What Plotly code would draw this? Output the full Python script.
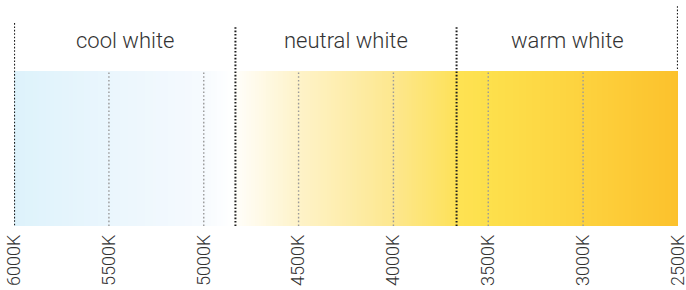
import numpy as np
import plotly.graph_objects as go

# --- data ---
tick_kelvin = [6000, 5500, 5000, 4500, 4000, 3500, 3000, 2500]
tick_labels = ["6000K", "5500K", "5000K", "4500K", "4000K", "3500K", "3000K", "2500K"]
section_names = ["cool white", "neutral white", "warm white"]
section_bounds = [6000, 4833, 3667, 2500]
# colour stops of the gradient (kelvin -> colour)
stop_kelvin = [6000, 5500, 5000, 4850, 4833, 4500, 4000, 3700, 3667, 3500, 3000, 2500]
stop_colors = ["#ddf2fb", "#eaf6fd", "#f6fafe", "#ffffff", "#fffefa", "#fef3c9",
               "#fde78e", "#fde25e", "#fee253", "#fde04c", "#fdd23e", "#fcc12c"]

kmin, kmax = min(stop_kelvin), max(stop_kelvin)
colorscale = sorted([[(k - kmin) / (kmax - kmin), c] for k, c in zip(stop_kelvin, stop_colors)])

# gradient band as heatmap cells (edges along kelvin axis)
edges = np.linspace(kmax, kmin, 351)
centers = (edges[:-1] + edges[1:]) / 2

fig = go.Figure()
fig.add_trace(go.Heatmap(
    x=edges, y=[0, 1], z=[centers],
    colorscale=colorscale, zmin=kmin, zmax=kmax,
    showscale=False, hoverinfo="skip", zsmooth=False,
))

# gray dotted lines at inner ticks
gx, gy = [], []
for k in tick_kelvin[1:-1]:
    gx += [k, k, None]
    gy += [0, 1, None]
fig.add_trace(go.Scatter(x=gx, y=gy, mode="lines",
                         line=dict(color="#9a9a9a", width=1.4, dash="1.6px,2.2px"),
                         hoverinfo="skip", showlegend=False))

# black dotted section boundaries
tops = [1.31, 1.285, 1.285, 1.42]
bottoms = [0.005, 0.0, 0.0, 1.013]
bx, by = [], []
for k, t, b in zip(section_bounds, tops, bottoms):
    bx += [k, k, None]
    by += [b, t, None]
fig.add_trace(go.Scatter(x=bx, y=by, mode="lines",
                         line=dict(color="#1e1e1e", width=2, dash="1.6px,1.8px"),
                         hoverinfo="skip", showlegend=False, cliponaxis=False))

for i, name in enumerate(section_names):
    fig.add_annotation(x=(section_bounds[i] + section_bounds[i + 1]) / 2, y=1.2,
                       text=name, showarrow=False,
                       font=dict(family="Roboto", size=22, color="#333333", weight=300))

fig.update_layout(
    width=686, height=290,
    margin=dict(l=14, r=8, t=0, b=64, autoexpand=False),
    paper_bgcolor="white", plot_bgcolor="white",
    showlegend=False,
    xaxis=dict(range=[kmax + 0.5, kmin - 0.5], tickvals=tick_kelvin, ticktext=tick_labels,
               tickangle=-90, ticks="", showgrid=False, zeroline=False, showline=False,
               automargin=False, ticklabeloverflow="allow",
               tickfont=dict(family="Roboto", size=18, color="#333333", weight=300),
               ticklabelstandoff=4),
    yaxis=dict(range=[0, 226 / 155], visible=False, fixedrange=True, automargin=False),
)

fig.write_html("out.html", config={"displayModeBar": False},
               post_script="document.body.style.margin='0px';")
